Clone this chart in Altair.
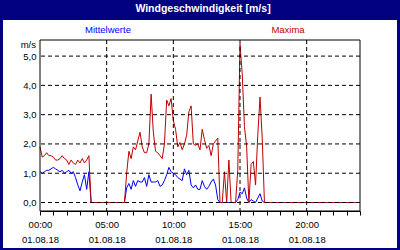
import altair as alt
import pandas as pd

# ---- data (10-minute samples, 01.08.18 00:00 .. 24:00) ----
maxima = [
    1.9, 1.55, 1.6, 1.7, 1.6, 1.6, 1.55, 1.45, 1.45, 1.5, 1.6, 1.5,
    1.45, 1.3, 1.45, 1.35, 1.3, 1.45, 1.35, 1.5, 1.35, 1.45, 1.6, 0.0,
    0, 0, 0, 0, 0, 0, 0, 0, 0, 0, 0, 0,
    0, 0, 0, 1.0, 1.75, 1.5, 1.9, 1.8, 2.1, 2.4, 1.9, 1.7,
    1.7, 2.0, 3.7, 2.4, 1.75, 1.7, 1.6, 1.5, 2.0, 3.5, 3.3, 3.55,
    2.8, 2.5, 1.9, 2.05, 1.8, 2.0, 2.3, 3.1, 3.3, 2.0, 1.95, 2.0,
    1.8, 2.5, 2.15, 1.85, 1.95, 1.6, 2.0, 2.1, 2.2, 0.0, 0.0, 1.05,
    0.0, 1.45, 0.0, 0.0, 0.0, 1.1, 5.4, 4.4, 2.6, 1.9, 0.0, 1.3,
    1.4, 0.6, 2.3, 3.6, 2.2, 0.0, 0, 0, 0, 0, 0, 0,
    0, 0, 0, 0, 0, 0, 0, 0, 0, 0, 0, 0,
    0, 0, 0, 0, 0, 0, 0, 0, 0, 0, 0, 0,
    0, 0, 0, 0, 0, 0, 0, 0, 0, 0, 0, 0,
    0,
]
mittel = [
    1.05, 1.0, 1.05, 1.1, 1.1, 1.15, 1.2, 1.15, 1.1, 1.05, 1.1, 1.0,
    1.05, 1.1, 1.0, 1.05, 0.85, 0.6, 0.4, 0.7, 0.95, 0.45, 1.05, 0.0,
    0, 0, 0, 0, 0, 0, 0, 0, 0, 0, 0, 0,
    0, 0, 0, 0.5, 0.65, 0.45, 0.75, 0.55, 0.75, 0.7, 0.7, 0.85,
    0.55, 0.95, 0.7, 0.7, 0.7, 0.75, 0.55, 0.6, 0.75, 0.95, 1.2, 1.05,
    1.0, 0.95, 0.85, 0.8, 0.75, 1.15, 0.95, 1.1, 0.6, 0.5, 0.6, 0.45,
    0.45, 0.75, 0.55, 0.45, 0.55, 0.7, 0.8, 0.6, 0.1, 0.0, 0.0, 0.0,
    0.0, 0.0, 0.0, 0.0, 0.0, 0.1, 0.35, 0.3, 0.5, 0.15, 0.0, 0.1,
    0.05, 0.0, 0.15, 0.3, 0.05, 0.0, 0, 0, 0, 0, 0, 0,
    0, 0, 0, 0, 0, 0, 0, 0, 0, 0, 0, 0,
    0, 0, 0, 0, 0, 0, 0, 0, 0, 0, 0, 0,
    0, 0, 0, 0, 0, 0, 0, 0, 0, 0, 0, 0,
    0,
]
hours = [i / 6 for i in range(len(maxima))]

y_ticks = [0, 1, 2, 3, 4, 5]
x_grid = [5, 10, 15, 20]
x_label_hours = [0, 5, 10, 15, 20]
x_label_times = ["00:00", "05:00", "10:00", "15:00", "20:00"]
x_label_date = "01.08.18"
x_minor = list(range(0, 25))

title_text = "Windgeschwindigkeit [m/s]"
legend_mean = "Mittelwerte"
legend_max = "Maxima"
unit_text = "m/s"

NAVY = "#000080"
RED = "#c00000"
BLUE = "#0000ff"
FONT = "Liberation Sans"

df = pd.DataFrame({"h": hours, "max": maxima, "mean": mittel})

xs = alt.Scale(domain=[0, 24], nice=False, zero=False)
ys = alt.Scale(domain=[-0.29, 5.55], nice=False, zero=False)

hl = "[" + ",".join(str(v) for v in x_label_hours) + "]"
tl = "[" + ",".join("'" + t + "'" for t in x_label_times) + "]"
label_expr = (
    f"indexof({hl}, datum.value) >= 0 ? "
    f"[{tl}[indexof({hl}, datum.value)], '{x_label_date}'] : ''"
)

x_axis = alt.Axis(
    values=x_minor, grid=False, domain=True, domainColor="black",
    ticks=True, tickSize=4, tickColor="black", labelExpr=label_expr,
    labelFont=FONT, labelFontSize=9.5, labelColor="black",
    labelLineHeight=15, labelPadding=4, title=None,
    labelBaseline="top", labelFlush=False, labelOverlap=False, zindex=2,
)
y_axis = alt.Axis(
    values=y_ticks, grid=False, domain=False, ticks=False,
    labelExpr="replace(format(datum.value, '.1f'), '.', ',')",
    labelFont=FONT, labelFontSize=9.5, labelColor="black",
    labelPadding=4, title=None, zindex=2, labelOverlap=False,
)

base = alt.Chart(df)

panel = alt.Chart(pd.DataFrame({"a": [0]})).mark_rect(color="white").encode(
    x=alt.value(-37), x2=alt.value(357), y=alt.value(-20), y2=alt.value(208)
)
frame = alt.Chart(pd.DataFrame({"a": [0]})).mark_rect(
    fill="transparent", stroke="black", strokeWidth=1
).encode(x=alt.value(0), x2=alt.value(320), y=alt.value(0), y2=alt.value(171))

line_mean = base.mark_line(color=BLUE, strokeWidth=1, interpolate="linear").encode(
    x=alt.X("h:Q", scale=xs, axis=x_axis),
    y=alt.Y("mean:Q", scale=ys, axis=y_axis),
)
line_max = base.mark_line(color=RED, strokeWidth=1).encode(
    x=alt.X("h:Q", scale=xs, axis=x_axis),
    y=alt.Y("max:Q", scale=ys, axis=y_axis),
)

hgrid = alt.Chart(pd.DataFrame({"v": y_ticks})).mark_rule(
    color="black", strokeDash=[4, 3], strokeWidth=1
).encode(y=alt.Y("v:Q", scale=ys, axis=y_axis))
vgrid = alt.Chart(pd.DataFrame({"v": x_grid})).mark_rule(
    color="black", strokeDash=[4, 3], strokeWidth=1
).encode(x=alt.X("v:Q", scale=xs, axis=x_axis))

def label(text, x, y, color, size=9.5, weight="normal", align="center"):
    return alt.Chart(pd.DataFrame({"t": [text]})).mark_text(
        color=color, font=FONT, fontSize=size, fontWeight=weight,
        align=align, baseline="middle",
    ).encode(x=alt.value(x), y=alt.value(y), text="t:N")

t_title = label(title_text, 163, -31, "white", size=10.5, weight="bold")
t_mean = label(legend_mean, 68, -10, BLUE)
t_max = label(legend_max, 248, -10, RED)
t_unit = label(unit_text, -4, 5, "black", align="right")

chart = alt.layer(
    panel, line_mean, line_max, hgrid, vgrid, frame,
    t_title, t_mean, t_max, t_unit
).resolve_scale(x="shared", y="shared").properties(
    width=320, height=171, autosize="none",
    padding={"left": 40, "top": 40, "right": 40, "bottom": 39},
    background=NAVY,
).configure_view(stroke=None)

chart.save("out.html", embed_options={"renderer": "svg", "actions": False})
